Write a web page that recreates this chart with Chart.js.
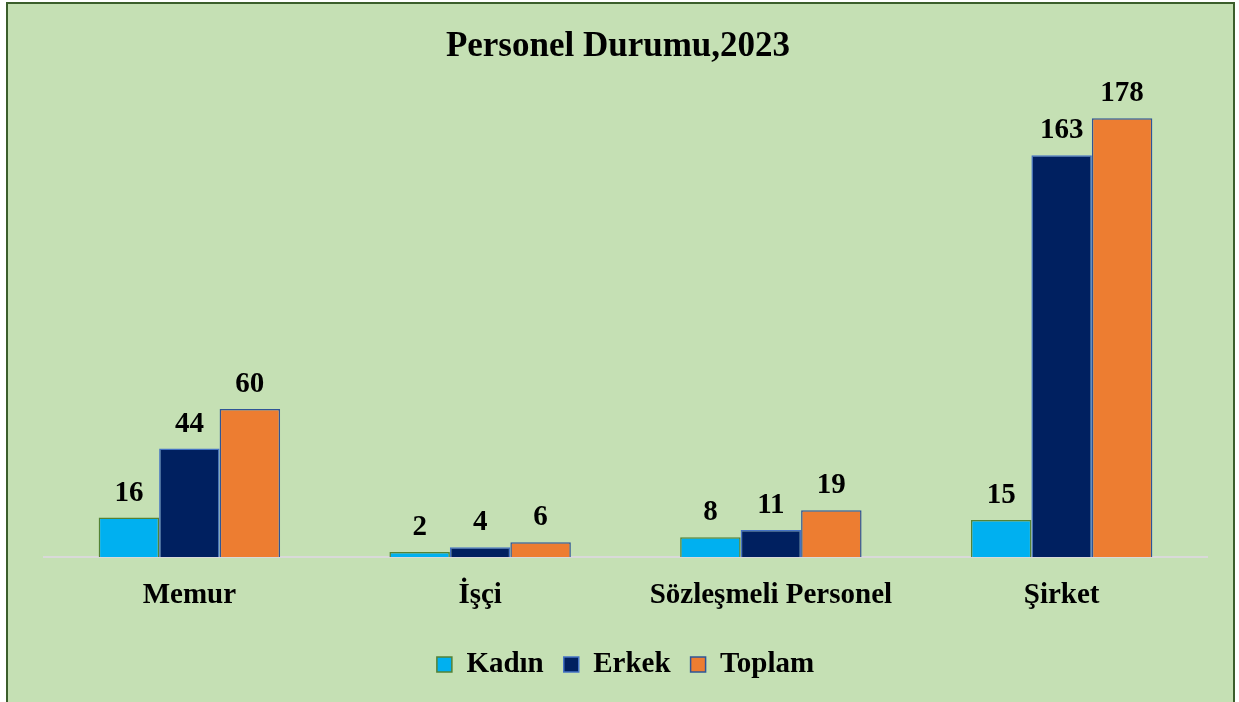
<!DOCTYPE html>
<html lang="tr">
<head>
  <meta charset="UTF-8" />
  <title>Personel Durumu,2023</title>
  <script src="https://cdn.jsdelivr.net/npm/chart.js"></script>
  <style>
    body { margin: 0; background: #fff; }
    .chart-container { position: relative; width: 1239px; height: 702px; }
  </style>
</head>
<body>
  <div class="chart-container">
    <canvas id="personelChart"></canvas>
  </div>

  <script>
    const chartTitle = 'Personel Durumu,2023';
    const categories = ['Memur', 'İşçi', 'Sözleşmeli Personel', 'Şirket'];
    const kadin = [16, 2, 8, 15];
    const erkek = [44, 4, 11, 163];
    const toplam = [60, 6, 19, 178];

    const serif = "'Liberation Serif', 'Times New Roman', serif";

    // green panel with dark frame, plus the title centred on the panel
    const panel = {
      id: 'panel',
      beforeDraw(chart) {
        const ctx = chart.ctx;
        ctx.save();
        ctx.fillStyle = '#ffffff';
        ctx.fillRect(0, 0, chart.width, chart.height);
        ctx.fillStyle = '#C5E0B4';
        ctx.fillRect(7, 3, 1227, chart.height);
        ctx.strokeStyle = '#3B5E2B';
        ctx.lineWidth = 2;
        ctx.strokeRect(7, 3, 1227, chart.height + 10);

        ctx.font = 'bold 35px ' + serif;
        ctx.fillStyle = '#000';
        ctx.textAlign = 'center';
        ctx.textBaseline = 'alphabetic';
        ctx.fillText(chartTitle, 618, 56);
        ctx.restore();
      }
    };

    // value labels above bars
    const valueLabels = {
      id: 'valueLabels',
      afterDatasetsDraw(chart) {
        const ctx = chart.ctx;
        ctx.save();
        ctx.font = 'bold 29px ' + serif;
        ctx.fillStyle = '#000';
        ctx.textAlign = 'center';
        ctx.textBaseline = 'alphabetic';
        chart.data.datasets.forEach((ds, i) => {
          chart.getDatasetMeta(i).data.forEach((bar, j) => {
            ctx.fillText(ds.data[j], bar.x, bar.y - 17);
          });
        });
        ctx.restore();
      }
    };

    const ctx = document.getElementById('personelChart').getContext('2d');

    new Chart(ctx, {
      type: 'bar',
      data: {
        labels: categories,
        datasets: [
          { label: 'Kadın', data: kadin, backgroundColor: '#00B0F0', borderColor: '#548235', borderWidth: 1.5 },
          { label: 'Erkek', data: erkek, backgroundColor: '#002060', borderColor: '#4472C4', borderWidth: 1.5 },
          { label: 'Toplam', data: toplam, backgroundColor: '#ED7D31', borderColor: '#2F5597', borderWidth: 1.5 }
        ]
      },
      options: {
        responsive: true,
        maintainAspectRatio: false,
        animation: false,
        categoryPercentage: 0.624,
        barPercentage: 1,
        layout: { padding: { left: 44, right: 32, top: 64, bottom: 13 } },
        plugins: {
          title: { display: false },
          legend: {
            position: 'bottom',
            labels: {
              color: '#000',
              font: { family: serif, size: 29, weight: 'bold' },
              boxWidth: 15,
              boxHeight: 15,
              padding: 20
            }
          },
          tooltip: { enabled: false }
        },
        scales: {
          x: {
            grid: { display: true, color: 'transparent', drawTicks: false },
            border: { display: true, color: '#D9D9D9', width: 2 },
            ticks: {
              color: '#000',
              padding: 21,
              font: { family: serif, size: 29, weight: 'bold' }
            },
            afterFit(scale) { scale.height = 73; }
          },
          y: {
            display: false,
            min: 0,
            max: 200
          }
        }
      },
      plugins: [panel, valueLabels]
    });
  </script>
</body>
</html>
